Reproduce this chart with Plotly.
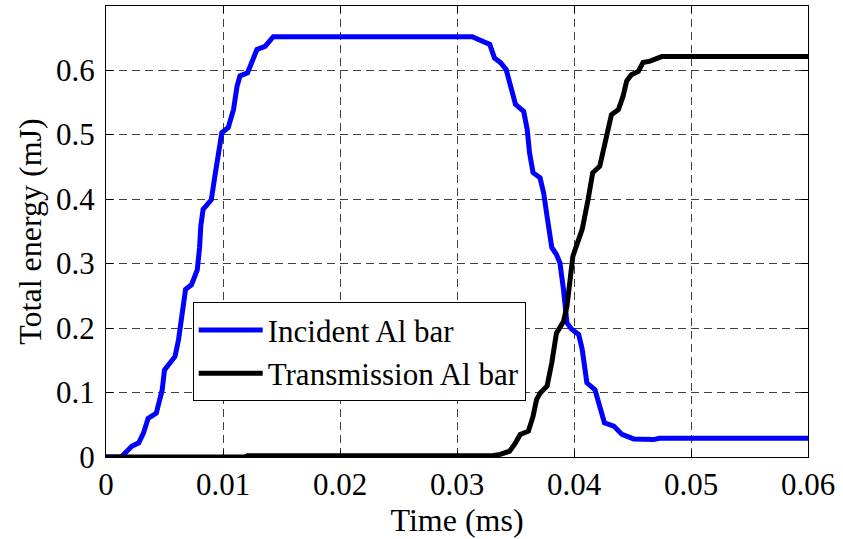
import plotly.graph_objects as go

# Incident Al bar (blue)
t_inc = [0, 0.0013, 0.0022, 0.0028, 0.0032, 0.0036, 0.0043, 0.0048, 0.0050, 0.0055,
         0.0059, 0.0062, 0.0065, 0.0068, 0.0073, 0.0078, 0.0080, 0.0081, 0.0083, 0.0090,
         0.0093, 0.0096, 0.0099, 0.01045, 0.0109, 0.0112, 0.01145, 0.0121, 0.01245, 0.0129,
         0.0136, 0.0143, 0.0313, 0.0321, 0.0328, 0.0332, 0.0337, 0.0342, 0.0347, 0.0350,
         0.0357, 0.0360, 0.0362, 0.0365, 0.0371, 0.0374, 0.0377, 0.0381, 0.0385, 0.0388,
         0.0391, 0.0394, 0.0398, 0.0404, 0.0407, 0.0411, 0.0418, 0.0422, 0.0426, 0.0434,
         0.0441, 0.0451, 0.0468, 0.0473, 0.06]
e_inc = [0, 0, 0.0165, 0.022, 0.037, 0.060, 0.068, 0.104, 0.135, 0.148,
         0.156, 0.182, 0.229, 0.260, 0.267, 0.290, 0.325, 0.358, 0.384, 0.399,
         0.435, 0.472, 0.503, 0.511, 0.539, 0.575, 0.591, 0.596, 0.614, 0.632,
         0.637, 0.652, 0.652, 0.645, 0.640, 0.619, 0.612, 0.601, 0.570, 0.547,
         0.536, 0.508, 0.472, 0.441, 0.433, 0.410, 0.373, 0.325, 0.314, 0.301,
         0.260, 0.208, 0.198, 0.190, 0.167, 0.115, 0.104, 0.079, 0.053, 0.048,
         0.035, 0.028, 0.027, 0.029, 0.029]

# Transmission Al bar (black)
t_tra = [0, 0.0119, 0.0121, 0.0330, 0.0337, 0.0345, 0.0350, 0.0354, 0.0361, 0.0365,
         0.0368, 0.0371, 0.0377, 0.0381, 0.0385, 0.0391, 0.0394, 0.0397, 0.0399, 0.0402,
         0.0407, 0.0412, 0.0416, 0.0422, 0.0426, 0.0429, 0.0432, 0.0438, 0.0442, 0.0445,
         0.0449, 0.0455, 0.0459, 0.0465, 0.0475, 0.06]
e_tra = [0, 0, 0.002, 0.002, 0.004, 0.009, 0.022, 0.035, 0.040, 0.063,
         0.089, 0.099, 0.110, 0.146, 0.192, 0.210, 0.234, 0.280, 0.311, 0.327,
         0.353, 0.399, 0.441, 0.451, 0.482, 0.513, 0.531, 0.539, 0.560, 0.583,
         0.593, 0.598, 0.612, 0.614, 0.621, 0.621]

x_ticks = [0, 0.01, 0.02, 0.03, 0.04, 0.05, 0.06]
x_tick_labels = ["0", "0.01", "0.02", "0.03", "0.04", "0.05", "0.06"]
y_ticks = [0, 0.1, 0.2, 0.3, 0.4, 0.5, 0.6]
y_tick_labels = ["0", "0.1", "0.2", "0.3", "0.4", "0.5", "0.6"]

FONT = "Liberation Serif"

fig = go.Figure()
fig.add_trace(go.Scatter(x=t_inc, y=e_inc, mode="lines", name="Incident Al bar",
                         line=dict(color="#0000ff", width=5)))
fig.add_trace(go.Scatter(x=t_tra, y=e_tra, mode="lines", name="Transmission Al bar",
                         line=dict(color="#000000", width=5)))

axis_common = dict(
    showline=True, linecolor="black", linewidth=1, mirror="ticks",
    ticks="inside", ticklen=7, tickcolor="black", tickwidth=1,
    showgrid=True, gridcolor="rgba(30,30,30,0.85)", gridwidth=1, griddash="8px,5px",
    zeroline=False, tickfont=dict(family=FONT, size=31, color="black"),
)

fig.update_xaxes(range=[0, 0.06], tickvals=x_ticks, ticktext=x_tick_labels,
                 title=dict(text="Time (ms)", font=dict(family=FONT, size=32, color="black"),
                            standoff=2),
                 **axis_common)
fig.update_yaxes(range=[0, 0.6995], tickvals=y_ticks, ticktext=y_tick_labels,
                 title=dict(text="Total energy (mJ)", font=dict(family=FONT, size=32, color="black"),
                            standoff=4),
                 ticklabelstandoff=4,
                 **axis_common)

fig.update_layout(
    width=843, height=539,
    margin=dict(l=106, r=35, t=6, b=82),
    paper_bgcolor="white", plot_bgcolor="white",
    showlegend=True,
    legend=dict(x=0.1235, y=0.343, xanchor="left", yanchor="top",
                bgcolor="white", bordercolor="black", borderwidth=1,
                font=dict(family=FONT, size=31, color="black"),
                itemwidth=64, tracegroupgap=0),
)

fig.write_html("out.html")
